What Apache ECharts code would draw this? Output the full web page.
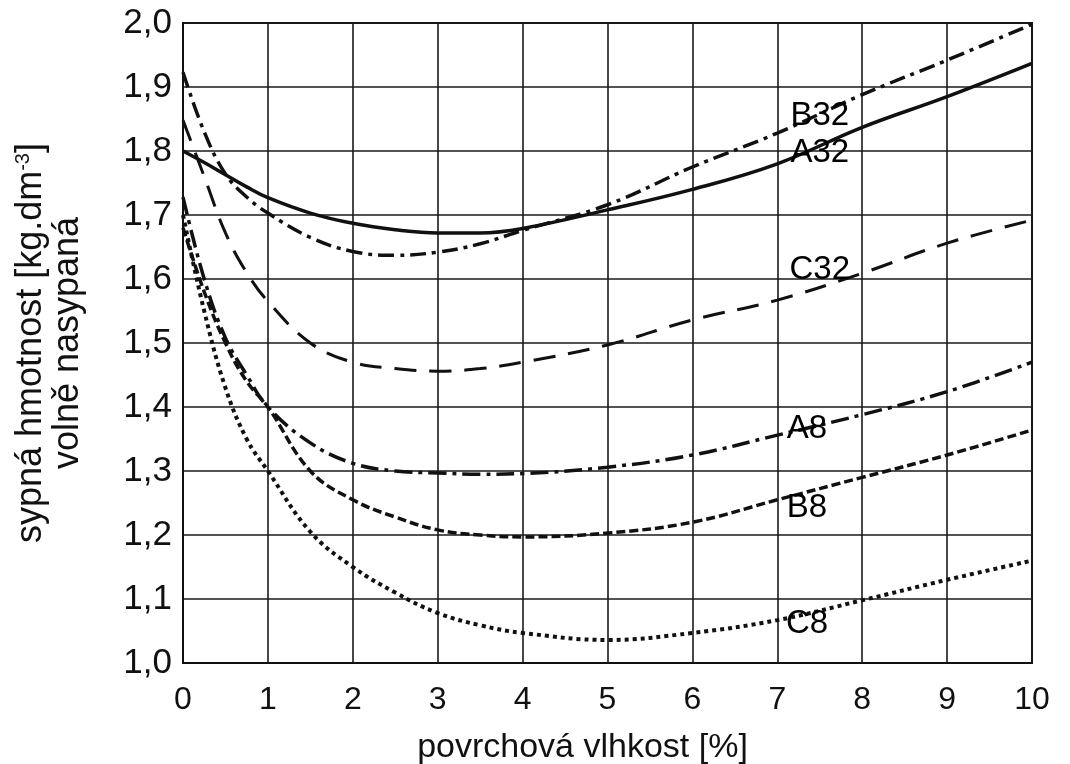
<!DOCTYPE html>
<html>
<head>
<meta charset="utf-8">
<script src="https://cdn.jsdelivr.net/npm/echarts@6/dist/echarts.min.js"></script>
<style>
  html, body { margin: 0; padding: 0; background: #fff; }
  #chart { width: 1070px; height: 764px; }
</style>
</head>
<body>
<div id="chart"></div>
<script>
// povrchová vlhkost [%] - body na ose x
const vlhkost = [0, 0.25, 0.5, 0.75, 1, 1.5, 2, 2.5, 3, 3.5, 4, 5, 6, 7, 8, 9, 10];

// sypná hmotnost [kg.dm-3]
const a32 = [1.800, 1.782, 1.763, 1.744, 1.727, 1.703, 1.687, 1.677, 1.672, 1.672, 1.679, 1.708, 1.740, 1.780, 1.837, 1.885, 1.937];
const b32 = [1.923, 1.830, 1.764, 1.728, 1.703, 1.665, 1.643, 1.637, 1.642, 1.655, 1.676, 1.716, 1.775, 1.828, 1.888, 1.942, 1.998];
const c32 = [1.848, 1.760, 1.672, 1.610, 1.565, 1.500, 1.470, 1.460, 1.456, 1.460, 1.470, 1.497, 1.536, 1.567, 1.609, 1.656, 1.692];
const a8  = [1.728, 1.600, 1.508, 1.450, 1.400, 1.344, 1.312, 1.300, 1.297, 1.295, 1.296, 1.306, 1.325, 1.356, 1.388, 1.424, 1.470];
const b8  = [1.680, 1.580, 1.500, 1.440, 1.400, 1.300, 1.255, 1.228, 1.208, 1.200, 1.197, 1.203, 1.220, 1.255, 1.290, 1.325, 1.364];
const c8  = [1.700, 1.550, 1.430, 1.350, 1.300, 1.205, 1.150, 1.110, 1.078, 1.059, 1.047, 1.036, 1.047, 1.067, 1.098, 1.130, 1.160];

// popisky křivek
const popisky = ["B32", "A32", "C32", "A8", "B8", "C8"];
const popiskyX = [7.5, 7.5, 7.5, 7.35, 7.35, 7.35];
const popiskyY = [1.855, 1.797, 1.614, 1.366, 1.242, 1.061];

const xTicks = [0, 1, 2, 3, 4, 5, 6, 7, 8, 9, 10];

const font = "'Liberation Sans', Arial, sans-serif";

function pary(ys) {
  return vlhkost.map((x, i) => [x, ys[i]]);
}

function krivka(name, ys, dash, width) {
  return {
    name: name,
    type: 'line',
    data: pary(ys),
    smooth: 0.4,
    symbol: 'none',
    silent: true,
    lineStyle: { color: '#111', width: width, type: dash, cap: 'butt' },
    z: 3
  };
}

let chart = echarts.init(document.getElementById('chart'));

var option = {
  backgroundColor: '#fff',
  animation: false,
  grid: {
    left: 183, right: 38, top: 23, bottom: 101,
    outerBoundsMode: 'none',
    containLabel: false,
    show: true, borderColor: '#111', borderWidth: 2, backgroundColor: 'transparent'
  },
  xAxis: {
    type: 'value',
    min: 0, max: 10, interval: 1,
    name: 'povrchová vlhkost [%]',
    nameLocation: 'middle',
    nameGap: 68,
    nameTextStyle: { fontFamily: font, fontSize: 34, color: '#111', padding: [0, 50, 0, 0] },
    axisLine: { show: true, lineStyle: { color: '#111', width: 2 } },
    axisTick: { show: false },
    axisLabel: {
      fontFamily: font, fontSize: 32, color: '#111', margin: 21,
      formatter: v => xTicks.includes(v) ? String(v) : ''
    },
    splitLine: { show: true, lineStyle: { color: '#1a1a1a', width: 1.6 } }
  },
  yAxis: {
    type: 'value',
    min: 1.0, max: 2.0, interval: 0.1,
    name: 'sypná hmotnost [kg.dm{sup|-3}]\nvolně nasypaná',
    nameLocation: 'middle',
    nameRotate: 90,
    nameGap: 96,
    nameTextStyle: {
      fontFamily: font, fontSize: 36, color: '#111', lineHeight: 37, align: 'center',
      rich: { sup: { fontFamily: font, fontSize: 20, verticalAlign: 'top', padding: [0, 0, 16, 0] } }
    },
    axisLine: { show: true, lineStyle: { color: '#111', width: 2 } },
    axisTick: { show: false },
    axisLabel: {
      fontFamily: font, fontSize: 35, color: '#111', margin: 11,
      formatter: v => v.toFixed(1).replace('.', ',')
    },
    splitLine: { show: true, lineStyle: { color: '#1a1a1a', width: 1.6 } }
  },
  series: [
    krivka('A32', a32, 'solid', 3.5),
    krivka('B32', b32, [16, 6, 4, 6], 3.5),
    krivka('C32', c32, [22, 13], 3),
    krivka('A8', a8, [18, 6, 4, 6], 3.5),
    krivka('B8', b8, [9, 4], 3.5),
    krivka('C8', c8, [4, 4], 4),
    {
      type: 'scatter',
      data: popisky.map((n, i) => ({ name: n, value: [popiskyX[i], popiskyY[i]] })),
      symbolSize: 1,
      silent: true,
      z: 5,
      itemStyle: { color: '#000', opacity: 0 },
      emphasis: { disabled: true },
      label: {
        show: true,
        position: 'inside',
        formatter: p => p.name,
        fontFamily: font,
        fontSize: 33,
        color: '#000',
        opacity: 1,
        textBorderWidth: 0
      }
    }
  ]
};
chart.setOption(option);
</script>
</body>
</html>
